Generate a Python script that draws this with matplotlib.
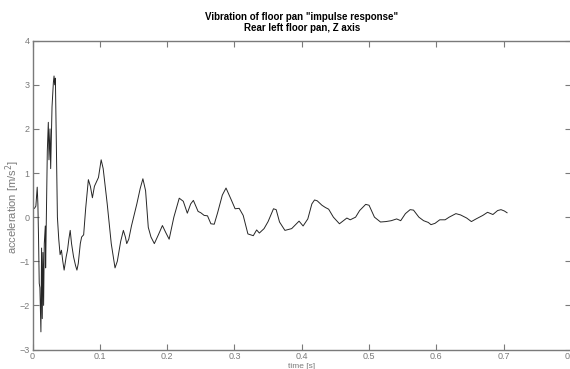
import matplotlib.pyplot as plt
import numpy as np

# acceleration trace (time in s, acceleration in m/s^2)
time_s = [
    0.000, 0.003, 0.005, 0.007, 0.008, 0.009, 0.010, 0.011, 0.0125, 0.0135,
    0.0145, 0.0155, 0.0165, 0.0175, 0.019, 0.0195, 0.0205, 0.022, 0.0235, 0.0245,
    0.026, 0.027, 0.029, 0.031, 0.032, 0.033, 0.034, 0.035, 0.037, 0.039,
    0.041, 0.043, 0.045, 0.047, 0.050, 0.052, 0.054, 0.056, 0.058, 0.061,
    0.064, 0.066, 0.068, 0.071, 0.073, 0.076, 0.079, 0.083, 0.086, 0.089,
    0.092, 0.095, 0.098, 0.102, 0.105, 0.111, 0.117, 0.1226, 0.126, 0.131,
    0.135, 0.138, 0.140, 0.143, 0.147, 0.151, 0.155, 0.160, 0.164, 0.168,
    0.172, 0.176, 0.181, 0.187, 0.193, 0.198, 0.203, 0.210, 0.218, 0.224,
    0.230, 0.235, 0.239, 0.246, 0.250, 0.255, 0.260, 0.265, 0.270, 0.275,
    0.282, 0.2875, 0.2945, 0.301, 0.307, 0.313, 0.320, 0.328, 0.333, 0.337,
    0.344, 0.350, 0.358, 0.362, 0.367, 0.375, 0.385, 0.396, 0.402, 0.409,
    0.415, 0.419, 0.423, 0.430, 0.435, 0.440, 0.447, 0.456, 0.467, 0.472,
    0.480, 0.486, 0.495, 0.500, 0.508, 0.517, 0.525, 0.533, 0.541, 0.547,
    0.554, 0.561, 0.566, 0.574, 0.581, 0.588, 0.592, 0.598, 0.605, 0.613,
    0.619, 0.629, 0.636, 0.645, 0.652, 0.659, 0.669, 0.676, 0.684, 0.691,
    0.696, 0.701, 0.705,
]
accel = [
    0.20, 0.20, 0.25, 0.68, 0.30, -0.50, -1.50, -1.60, -2.60, -0.70,
    -2.30, -0.80, -2.00, -0.60, -0.20, -1.15, -0.10, 1.50, 2.15, 1.30,
    2.00, 1.10, 2.50, 3.05, 3.20, 3.00, 3.15, 2.10, 0.00, -0.50,
    -0.85, -0.75, -1.00, -1.20, -0.90, -0.75, -0.50, -0.30, -0.60, -0.90,
    -1.10, -1.20, -1.05, -0.60, -0.45, -0.40, 0.20, 0.85, 0.70, 0.44,
    0.70, 0.80, 0.90, 1.30, 1.10, 0.30, -0.60, -1.15, -1.00, -0.55,
    -0.30, -0.45, -0.60, -0.50, -0.20, 0.05, 0.30, 0.65, 0.87, 0.60,
    -0.23, -0.45, -0.60, -0.40, -0.19, -0.35, -0.50, 0.00, 0.43, 0.36,
    0.09, 0.30, 0.38, 0.13, 0.10, 0.04, 0.03, -0.15, -0.16, 0.10,
    0.50, 0.66, 0.42, 0.19, 0.20, 0.04, -0.38, -0.42, -0.29, -0.36,
    -0.26, -0.10, 0.19, 0.17, -0.11, -0.30, -0.26, -0.09, -0.20, -0.04,
    0.30, 0.39, 0.37, 0.27, 0.22, 0.18, 0.00, -0.15, -0.02, -0.06,
    0.00, 0.15, 0.29, 0.27, 0.00, -0.11, -0.10, -0.08, -0.04, -0.08,
    0.08, 0.17, 0.16, 0.00, -0.08, -0.12, -0.17, -0.14, -0.06, -0.06,
    0.00, 0.08, 0.05, -0.02, -0.10, -0.04, 0.04, 0.11, 0.06, 0.15,
    0.17, 0.14, 0.10,
]

x_ticks = [0, 0.1, 0.2, 0.3, 0.4, 0.5, 0.6, 0.7, 0.8]
x_tick_labels = ["0", "0.1", "0.2", "0.3", "0.4", "0.5", "0.6", "0.7", "0.8"]
y_ticks = [-3, -2, -1, 0, 1, 2, 3, 4]

plt.rcParams["font.family"] = ["Liberation Sans", "DejaVu Sans"]
gray = "#7a7a7a"

fig = plt.figure(figsize=(5.7, 3.69), dpi=100)
ax = fig.add_axes([32.5 / 570, 19.5 / 369, 538.5 / 570, 308.8 / 369])

ax.plot(time_s, accel, color="#262626", linewidth=0.7)

ax.set_xlim(0, 0.8)
ax.set_ylim(-3, 4)
ax.set_xticks(x_ticks, x_tick_labels)
ax.set_yticks(y_ticks)
ax.tick_params(direction="in", length=4, width=0.8, colors=gray,
               labelsize=6.5, top=True, right=True, pad=2)
for s in ax.spines.values():
    s.set_color(gray)
    s.set_linewidth(1.0)

ax.set_xlabel("time [s]", fontsize=6, color=gray, labelpad=1)
ax.set_ylabel("acceleration [m/s$^2$]", fontsize=8, color=gray)
ax.yaxis.set_label_coords(-0.019, 0.46)
ax.set_title("Vibration of floor pan \"impulse response\"\nRear left floor pan, Z axis",
             fontsize=7, fontweight="bold", linespacing=1.15, pad=7)

fig.savefig("out.png", dpi=100)
